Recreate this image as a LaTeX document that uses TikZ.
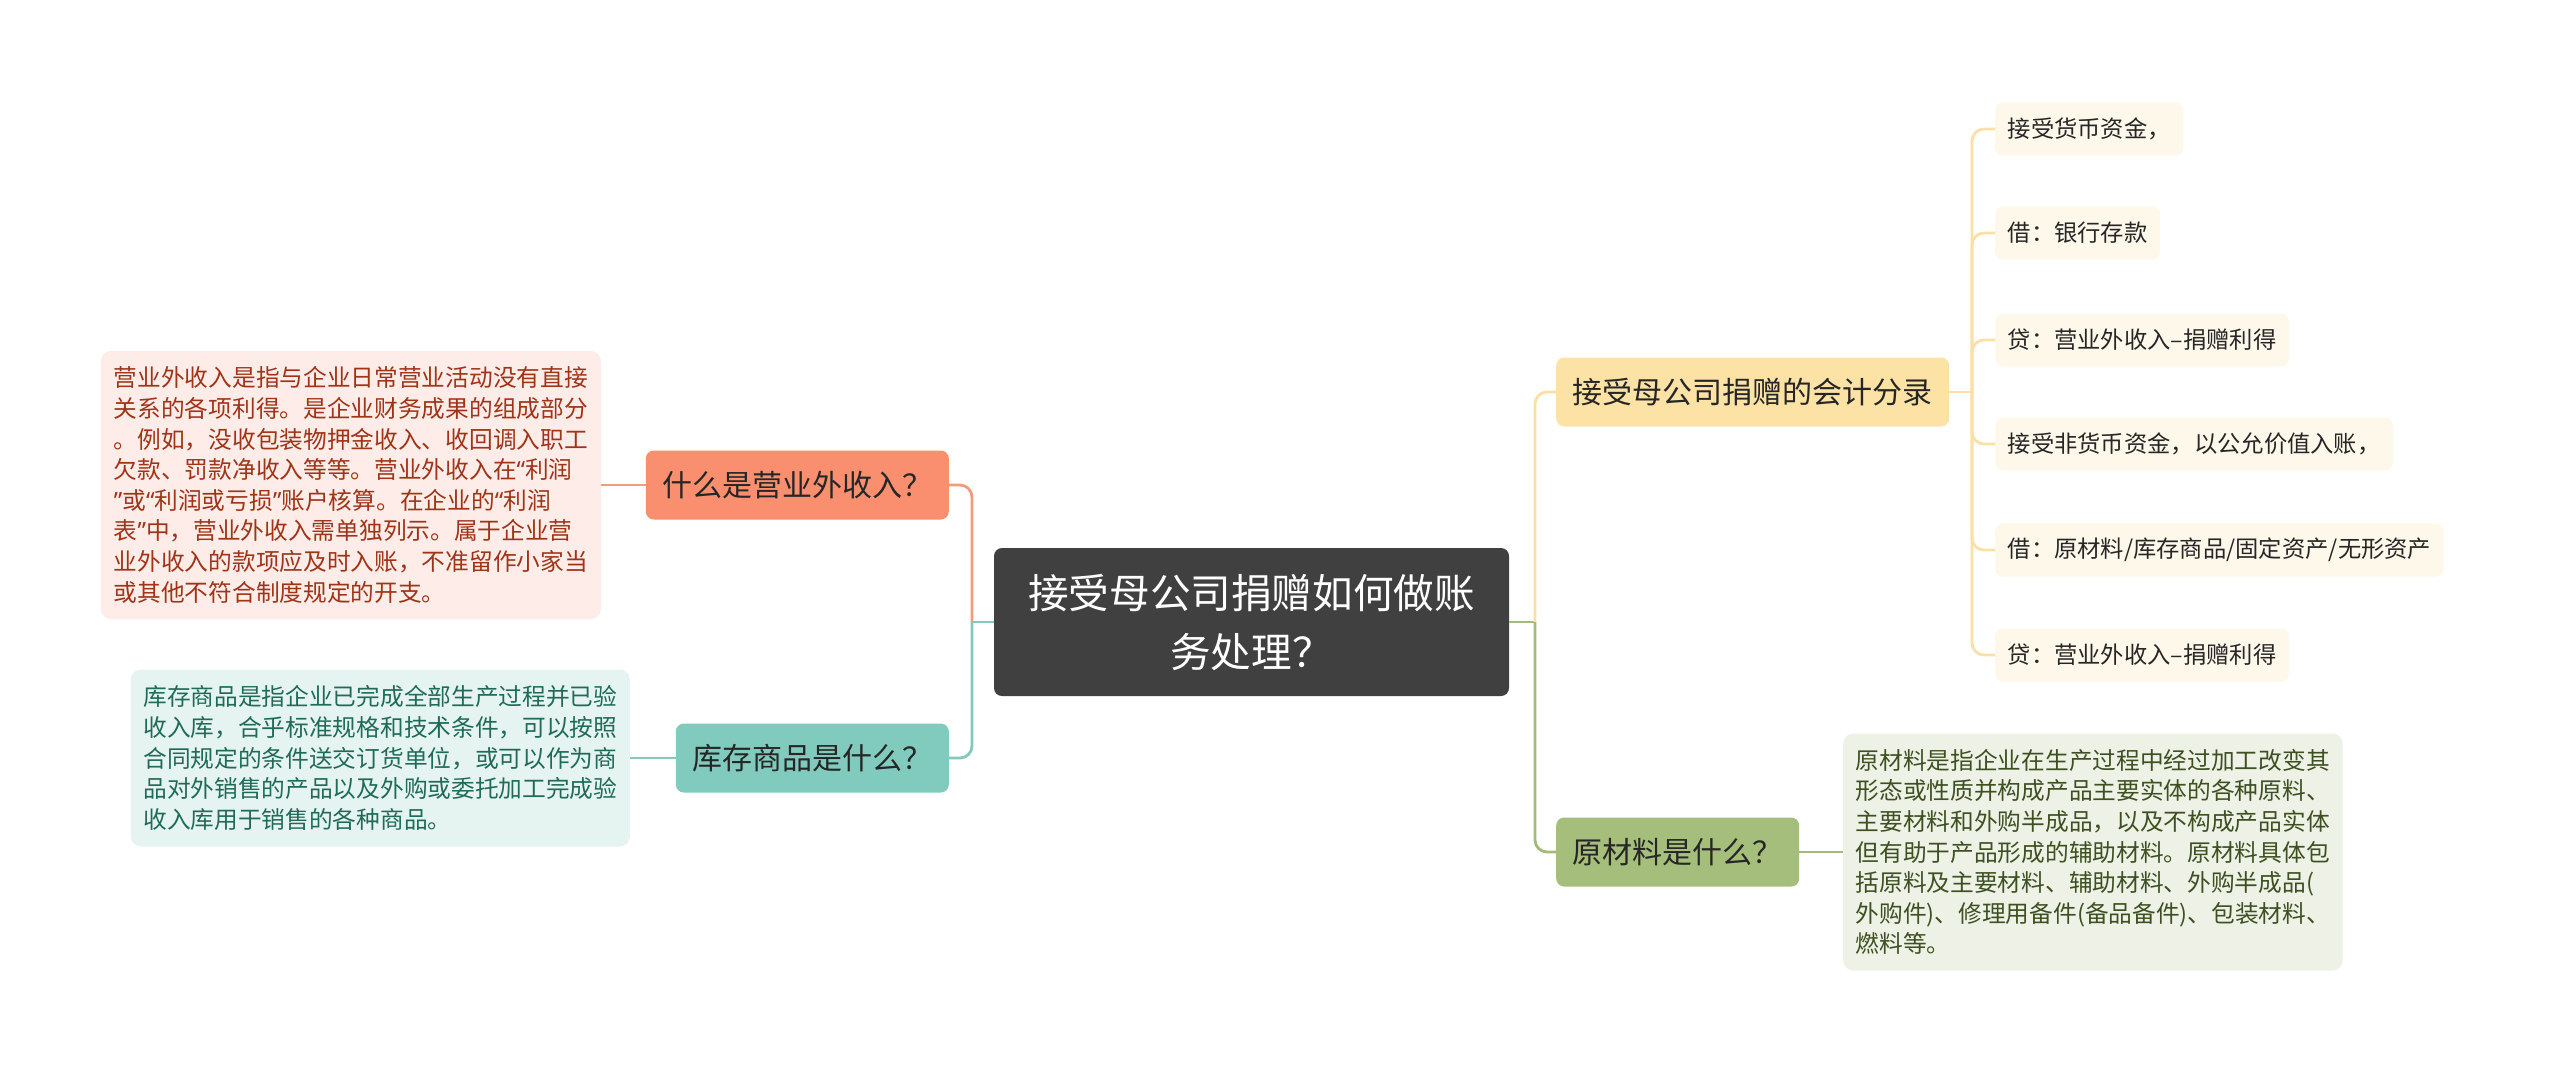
\documentclass[tikz,border=0pt]{standalone}
\usepackage{fontspec}
\newfontfamily\cjk{Noto Sans CJK SC}
\newfontfamily\latq{Noto Sans}
\newcommand\oqt{{\latq “}}
\newcommand\cqt{{\latq ”}}
\definecolor{centerfill}{HTML}{404040}
\definecolor{titletext}{HTML}{262626}
\definecolor{orangefill}{HTML}{F98F6E}
\definecolor{orangeline}{HTML}{F29C7E}
\definecolor{orangebox}{HTML}{FDECE7}
\definecolor{orangetext}{HTML}{A03418}
\definecolor{tealfill}{HTML}{80CBBD}
\definecolor{tealline}{HTML}{84C9BB}
\definecolor{tealbox}{HTML}{E6F4F1}
\definecolor{tealtext}{HTML}{1F6B58}
\definecolor{yellowfill}{HTML}{FDE2A6}
\definecolor{yellowline}{HTML}{FAE0A6}
\definecolor{leaffill}{HTML}{FEF8EB}
\definecolor{greenfill}{HTML}{A6BE7B}
\definecolor{greenline}{HTML}{A3BB78}
\definecolor{greenbox}{HTML}{EEF1E6}
\definecolor{greentext}{HTML}{3E5021}
\begin{document}
\begin{tikzpicture}[x=1pt,y=-1pt,
  base/.style={rounded corners=8pt, inner ysep=0pt},
  title/.style={base, font=\cjk\fontsize{30}{36}\selectfont, text=titletext, inner xsep=16.5pt, minimum height=69pt},
  tbox/.style={base, font=\cjk\fontsize{23.7}{30.6}\selectfont, align=left, inner xsep=12.5pt, rounded corners=10pt},
  leaf/.style={base, fill=leaffill, font=\cjk\fontsize{23.3}{28}\selectfont, text=titletext, inner xsep=12.5pt, minimum height=53pt},
  conn/.style={line width=2.8pt, rounded corners=12pt}]
\useasboundingbox[fill=white] (0,0) rectangle (2560,1072);

% central topic
\node[base, fill=centerfill, text=white, font=\cjk\fontsize{40.6}{59}\selectfont, align=center,
      minimum width=515pt, minimum height=148pt] (c) at (1251.5,622) {接受母公司捐赠如何做账\\务处理？};

% left branches
\node[title, fill=orangefill, anchor=east] (q1) at (949,485) {什么是营业外收入？};
\node[title, fill=tealfill, anchor=east] (q2) at (949,758) {库存商品是什么？};
\node[tbox, fill=orangebox, text=orangetext, anchor=east, minimum width=500pt, minimum height=268pt] (t1) at (601,485) {营业外收入是指与企业日常营业活动没有直接\\关系的各项利得。是企业财务成果的组成部分\\。例如，没收包装物押金收入、收回调入职工\\欠款、罚款净收入等等。营业外收入在\oqt 利润\\\cqt 或\oqt 利润或亏损\cqt 账户核算。在企业的\oqt 利润\\表\cqt 中，营业外收入需单独列示。属于企业营\\业外收入的款项应及时入账，不准留作小家当\\或其他不符合制度规定的开支。};
\node[tbox, fill=tealbox, text=tealtext, anchor=east, minimum width=498pt, minimum height=177pt] (t2) at (630,758) {库存商品是指企业已完成全部生产过程并已验\\收入库，合乎标准规格和技术条件，可以按照\\合同规定的条件送交订货单位，或可以作为商\\品对外销售的产品以及外购或委托加工完成验\\收入库用于销售的各种商品。};

% right branches
\node[title, fill=yellowfill, anchor=west] (q3) at (1556,392) {接受母公司捐赠的会计分录};
\node[title, fill=greenfill, anchor=west] (q4) at (1556,852) {原材料是什么？};
\node[tbox, fill=greenbox, text=greentext, anchor=west, minimum width=497pt, minimum height=237pt] (t4) at (1843,852) {原材料是指企业在生产过程中经过加工改变其\\形态或性质并构成产品主要实体的各种原料、\\主要材料和外购半成品，以及不构成产品实体\\但有助于产品形成的辅助材料。原材料具体包\\括原料及主要材料、辅助材料、外购半成品(\\外购件)、修理用备件(备品备件)、包装材料、\\燃料等。};

% leaves
\node[leaf, anchor=west] (l1) at (1995,129) {接受货币资金，};
\node[leaf, anchor=west] (l2) at (1995,233) {借：银行存款};
\node[leaf, anchor=west] (l3) at (1995,340) {贷：营业外收入–捐赠利得};
\node[leaf, anchor=west] (l4) at (1995,444) {接受非货币资金，以公允价值入账，};
\node[leaf, anchor=west] (l5) at (1995,550) {借：原材料/库存商品/固定资产/无形资产};
\node[leaf, anchor=west] (l6) at (1995,655) {贷：营业外收入–捐赠利得};

% junctions
\coordinate (jl) at (972,622);
\coordinate (jr) at (1535,622);
\coordinate (jy) at (1972,392);

% connectors
\draw[conn, tealline] (c.west) -- (jl);
\draw[conn, orangeline] (jl) |- (q1.east);
\draw[conn, tealline] (jl) |- (q2.east);
\draw[conn, orangeline] (q1.west) -- (t1.east);
\draw[conn, tealline] (q2.west) -- (t2.east);
\draw[conn, greenline] (c.east) -- (jr);
\draw[conn, yellowline] (jr) |- (q3.west);
\draw[conn, greenline] (jr) |- (q4.west);
\draw[conn, greenline] (q4.east) -- (t4.west);
\draw[conn, yellowline] (q3.east) -- (jy);
\foreach \l in {l1,l2,l3,l4,l5,l6} \draw[conn, yellowline] (jy) |- (\l.west);
\end{tikzpicture}
\end{document}
